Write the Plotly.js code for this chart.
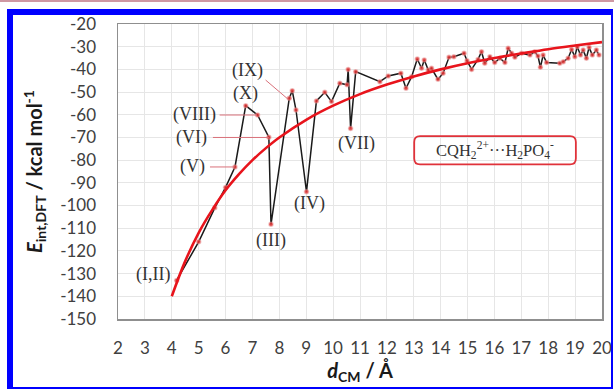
<!DOCTYPE html>
<html>
<head>
<meta charset="utf-8">
<script src="https://cdn.plot.ly/plotly-3.0.1.min.js"></script>
<style>
  html, body { margin: 0; padding: 0; background: #ffffff; }
  #wrap { position: relative; width: 614px; height: 389px; overflow: hidden; }
  #chart { position: absolute; left: 0; top: 0; width: 614px; height: 389px; }
  #pink { position: absolute; left: 0; top: 0; width: 614px; height: 2px; background: #cf98a3; pointer-events: none; }
  #frame { position: absolute; left: 7px; top: 9px; width: 598px; height: 372px;
           border-left: 6px solid #0000ff; border-top: 6px solid #0000ff;
           border-right: 2px solid #0000ff; border-bottom: 2px solid #0000ff; pointer-events: none; }
</style>
</head>
<body>
<div id="wrap">
  <div id="chart"></div>
  <div id="pink"></div>
  <div id="frame"></div>
</div>
<script>
// DFT interaction energies (black line with red points)
const dCM = [4.18, 5.0, 5.6, 6.0, 6.35, 6.75, 7.19, 7.61, 7.69, 8.37, 8.48, 8.62, 9.01, 9.38, 9.69, 9.94, 10.25, 10.52, 10.56, 10.65, 10.84,
  11.74, 12.05, 12.52, 12.71, 12.92, 13.13, 13.29, 13.39, 13.54, 13.66, 13.9, 14.09, 14.31, 14.49, 14.87, 14.98, 15.15, 15.39, 15.52, 15.64,
  15.83, 16.01, 16.2, 16.39, 16.51, 16.64, 16.76, 17.01, 17.32, 17.5, 17.62, 17.71, 17.81, 17.94, 18.43, 18.56, 18.74, 18.87, 18.99, 19.08,
  19.2, 19.3, 19.42, 19.52, 19.64, 19.79, 19.89];
const Eint = [-133, -116, -101, -92, -83, -56, -60.1, -69.9, -108.3, -52.7, -49.4, -57.9, -93.9, -53.9, -50.1, -54.2, -46.1, -46.8, -40, -66, -41,
  -45.4, -42.9, -41.7, -48.3, -43.2, -35.4, -39.5, -35.9, -40.3, -39.5, -44.4, -41.7, -34.7, -34.4, -32.9, -36.2, -40, -35.6, -32.2, -37.3,
  -34.4, -37.0, -35.1, -37, -30.7, -32.9, -34.7, -32.9, -33.7, -32.2, -34.1, -39.1, -33.7, -37, -37.3, -36.6, -35.1, -31.2, -34.4, -30,
  -33.7, -31.5, -35.1, -30.3, -33.7, -31.5, -33.7];

// fitted curve (red)
const fitD = [4, 4.5, 5, 5.5, 6, 6.5, 7, 7.5, 8, 9, 10, 11, 12, 13, 14, 15, 16, 17, 18, 19, 20];
const fitE = [-140, -124.5, -112, -102, -93.3, -86.2, -80, -74.7, -70, -62.2, -56, -50.9, -46.7, -43.1, -40, -37.3, -35, -33, -31.1, -29.5, -28];

// structure labels
const labText = ["(I,II)", "(III)", "(IV)", "(V)", "(VI)", "(VII)", "(VIII)", "(IX)", "(X)"];
const labX = [3.31, 7.69, 9.11, 4.77, 4.74, 10.87, 4.86, 6.83, 6.76];
const labY = [-130.6, -115.2, -99.3, -82.9, -70.1, -72.6, -59.7, -40.3, -50.5];

const yTicks = [-150, -140, -130, -120, -110, -100, -90, -80, -70, -60, -50, -40, -30, -20];
const xTicks = [2, 3, 4, 5, 6, 7, 8, 9, 10, 11, 12, 13, 14, 15, 16, 17, 18, 19, 20];

const seriesLabel = "CQH<sub>2</sub><sup>2+</sup>···H<sub>2</sub>PO<sub>4</sub><sup>-</sup>";

const traces = [
  {
    x: dCM, y: Eint, type: 'scatter', mode: 'lines+markers',
    line: { color: '#1a1a1a', width: 1.5 },
    marker: { color: 'rgba(225,50,50,0.85)', size: 4, line: { color: 'rgba(230,140,140,0.5)', width: 1.5 } },
    hoverinfo: 'x+y'
  },
  {
    x: fitD, y: fitE, type: 'scatter', mode: 'lines',
    line: { color: '#e8141c', width: 2.6, shape: 'spline', smoothing: 1 },
    hoverinfo: 'x+y'
  }
];

const annotations = labText.map((t, i) => ({
  x: labX[i], y: labY[i], xref: 'x', yref: 'y', text: t, showarrow: false,
  xanchor: 'center', yanchor: 'middle',
  font: { family: 'Liberation Serif, serif', size: 18, color: '#333333' }
}));
annotations.push({
  x: 0.779, y: 0.574, xref: 'paper', yref: 'paper', text: seriesLabel, showarrow: false,
  xanchor: 'center', yanchor: 'middle',
  font: { family: 'Liberation Serif, serif', size: 16.5, color: '#333333' }
});

// rounded box round the series label (paper coordinates)
const bx0 = 0.612, bx1 = 0.946, by0 = 0.524, by1 = 0.620, rx = 0.012, ry = 0.02;
const boxPath = `M ${bx0 + rx},${by1} L ${bx1 - rx},${by1} Q ${bx1},${by1} ${bx1},${by1 - ry} L ${bx1},${by0 + ry} Q ${bx1},${by0} ${bx1 - rx},${by0} ` +
  `L ${bx0 + rx},${by0} Q ${bx0},${by0} ${bx0},${by0 + ry} L ${bx0},${by1 - ry} Q ${bx0},${by1} ${bx0 + rx},${by1} Z`;

const leader = { color: '#d9707a', width: 1 };
const shapes = [
  { type: 'line', xref: 'x', yref: 'y', x0: 5.78, y0: -60.1, x1: 7.17, y1: -60.1, line: leader },
  { type: 'line', xref: 'x', yref: 'y', x0: 5.53, y0: -70, x1: 7.61, y1: -70, line: leader },
  { type: 'line', xref: 'x', yref: 'y', x0: 5.42, y0: -83, x1: 6.35, y1: -83, line: leader },
  { type: 'line', xref: 'x', yref: 'y', x0: 7.49, y0: -44.7, x1: 8.33, y1: -53.2, line: leader },
  { type: 'path', xref: 'paper', yref: 'paper', path: boxPath, line: { color: '#e0323a', width: 1.8 } }
];

const tickFont = { family: 'Lato, sans-serif', size: 17, color: '#404040' };

const layout = {
  width: 614, height: 389,
  margin: { l: 118, r: 12, t: 24, b: 70 },
  paper_bgcolor: 'rgba(0,0,0,0)', plot_bgcolor: '#ffffff',
  showlegend: false,
  xaxis: {
    range: [2, 20], tickvals: xTicks, ticktext: xTicks.map(String),
    showgrid: true, gridcolor: '#e6e6e6', gridwidth: 1, zeroline: false,
    showline: true, mirror: true, linecolor: '#8f8f8f', linewidth: 1.5,
    ticks: '', ticklabelstandoff: 13, tickfont: tickFont,
    title: { text: '<b><i>d</i><sub>CM</sub> / Å</b>', font: { family: 'Lato, sans-serif', size: 20, color: '#1a1a1a' }, standoff: 5 }
  },
  yaxis: {
    range: [-150, -20], tickvals: yTicks, ticktext: yTicks.map(String),
    showgrid: true, gridcolor: '#e6e6e6', gridwidth: 1, zeroline: false,
    showline: true, mirror: true, linecolor: '#8f8f8f', linewidth: 1.5,
    ticks: '', ticklabelstandoff: 17, tickfont: tickFont,
    title: { text: '<b><i>E</i><sub>int,DFT</sub> / kcal mol<sup>-1</sup></b>', font: { family: 'Lato, sans-serif', size: 20, color: '#1a1a1a' }, standoff: 12 }
  },
  annotations: annotations,
  shapes: shapes
};

Plotly.newPlot('chart', traces, layout, { staticPlot: true, displayModeBar: false });
</script>
</body>
</html>
